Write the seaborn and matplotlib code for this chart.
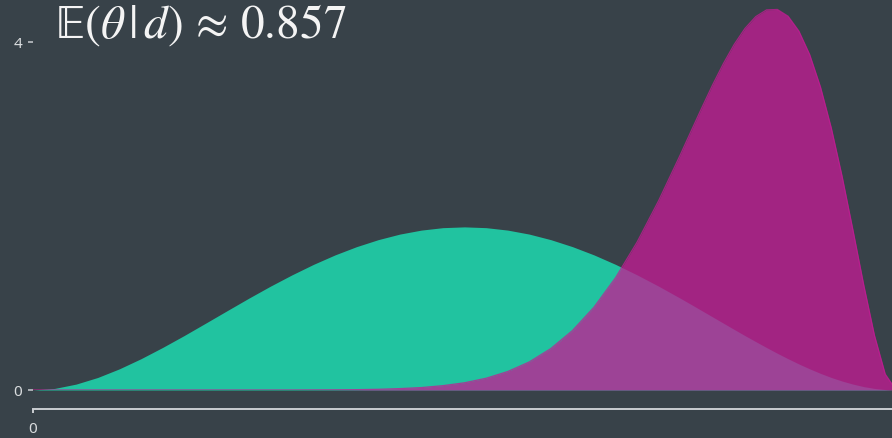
import matplotlib
matplotlib.use("Agg")
import matplotlib.pyplot as plt
import pandas as pd
import seaborn as sns

# Grid of theta values (finer on the right where the posterior peaks)
theta = [
    0.0, 0.025, 0.05, 0.075, 0.1, 0.125, 0.15, 0.175, 0.2, 0.225,
    0.25, 0.275, 0.3, 0.325, 0.35, 0.375, 0.4, 0.425, 0.45, 0.475,
    0.5, 0.525, 0.55, 0.575, 0.6, 0.625, 0.65, 0.675, 0.7, 0.725,
    0.75, 0.7625, 0.775, 0.7875, 0.8, 0.8125, 0.825, 0.8375, 0.85, 0.8625,
    0.875, 0.8875, 0.9, 0.9125, 0.925, 0.9375, 0.95, 0.9625, 0.975, 0.9875,
    1.0,
]

# Prior density p(theta)
prior_density = [
    0.0, 0.018, 0.068, 0.144, 0.243, 0.359, 0.488, 0.625, 0.768, 0.912,
    1.055, 1.193, 1.323, 1.444, 1.553, 1.648, 1.728, 1.792, 1.838, 1.866,
    1.875, 1.866, 1.838, 1.792, 1.728, 1.648, 1.553, 1.444, 1.323, 1.193,
    1.055, 0.984, 0.912, 0.840, 0.768, 0.696, 0.625, 0.556, 0.488, 0.422,
    0.359, 0.299, 0.243, 0.191, 0.144, 0.103, 0.068, 0.039, 0.018, 0.005,
    0.0,
]

# Posterior density p(theta | d)
posterior_density = [
    0.0, 0.0, 0.0, 0.0, 0.0, 0.0, 0.0, 0.0, 0.0, 0.0,
    0.0, 0.0, 0.0, 0.001, 0.002, 0.004, 0.008, 0.016, 0.028, 0.050,
    0.083, 0.135, 0.212, 0.322, 0.476, 0.682, 0.951, 1.290, 1.700, 2.177,
    2.702, 2.974, 3.244, 3.507, 3.752, 3.972, 4.156, 4.292, 4.369, 4.374,
    4.296, 4.125, 3.855, 3.483, 3.013, 2.458, 1.844, 1.213, 0.630, 0.183,
    0.0,
]

title_text = r"$\mathbb{E}(\mathit{\theta}\,|\,\mathit{d})\, \approx\, 0.857$"
y_ticks = [0, 4]
x_ticks = [0]

BG = "#384249"
PRIOR_COLOR = "#21c3a0"
POST_COLOR = "#c31c94"
POST_ALPHA = 0.77
AXIS_COLOR = "#c9cdd1"
TEXT_COLOR = "#d9dcde"

sns.set_theme(style="dark", rc={
    "axes.facecolor": BG,
    "figure.facecolor": BG,
    "savefig.facecolor": BG,
    "axes.grid": False,
})
plt.rcParams["font.family"] = ["Noto Sans", "DejaVu Sans"]
plt.rcParams["mathtext.fontset"] = "stix"
plt.rcParams["mathtext.default"] = "rm"

df = pd.DataFrame({
    "theta": theta,
    "prior": prior_density,
    "posterior": posterior_density,
})

W, H = 892, 439
fig = plt.figure(figsize=(W / 100, H / 100), dpi=100)
ax = fig.add_axes([33 / W, 48 / H, 859 / W, 391 / H])

# Filled densities: prior underneath, translucent posterior on top
ax.fill_between(df["theta"], 0, df["prior"], color=PRIOR_COLOR, linewidth=0)
ax.fill_between(df["theta"], 0, df["posterior"], color=POST_COLOR,
                alpha=POST_ALPHA, linewidth=0)
sns.lineplot(data=df, x="theta", y="posterior", ax=ax, color=POST_COLOR,
             alpha=POST_ALPHA, linewidth=0.9, sort=True)

ax.set_xlim(0, 859 / 863)
ax.set_ylim(0, 391 / 87)
ax.set_xticks(x_ticks)
ax.set_xticklabels([str(v) for v in x_ticks])
ax.set_yticks(y_ticks)
ax.set_yticklabels([str(v) for v in y_ticks])
ax.set_xlabel("")
ax.set_ylabel("")

for side in ("top", "right", "left"):
    ax.spines[side].set_visible(False)
ax.spines["bottom"].set_position(("outward", 14))
ax.spines["bottom"].set_color(AXIS_COLOR)
ax.spines["bottom"].set_linewidth(1.4)

ax.tick_params(axis="y", left=True, direction="out", length=3.6, width=1.1,
               color=AXIS_COLOR, labelcolor=TEXT_COLOR, labelsize=11, pad=4.0)
ax.tick_params(axis="x", bottom=True, direction="out", length=3.2, width=1.4,
               color=AXIS_COLOR, labelcolor=TEXT_COLOR, labelsize=11, pad=5.0)

fig.text(55 / W, 1 - 38 / H, title_text, fontsize=34, color="#f4f4f4",
         ha="left", va="baseline")

fig.savefig("out.png", dpi=100, facecolor=BG)
